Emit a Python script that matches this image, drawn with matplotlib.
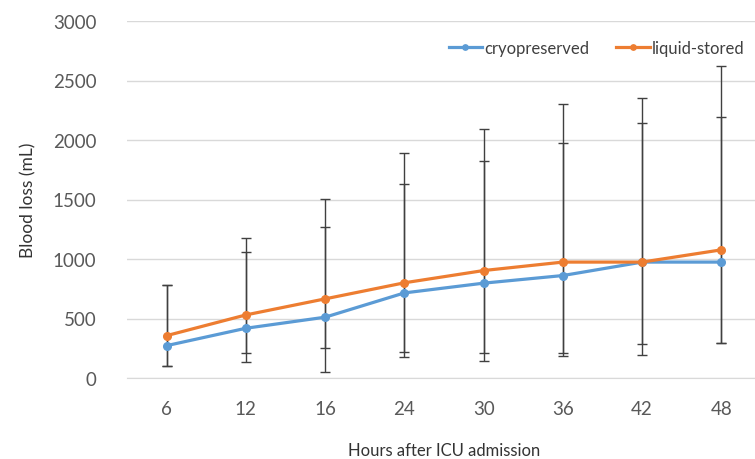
import numpy as np
import matplotlib
matplotlib.use('Agg')
import matplotlib.pyplot as plt

plt.rcParams['font.family'] = ['Lato', 'DejaVu Sans']

hours = ['6', '12', '16', '24', '30', '36', '42', '48']

cryo = [272, 418, 511, 715, 797, 861, 974, 974]
liquid = [356, 530, 665, 800, 903, 974, 974, 1077]

# error bar ends read from the caps
cryo_low = [104, 208, 250, 216, 210, 210, 286, 292]
cryo_high = [783, 1058, 1271, 1630, 1824, 1978, 2144, 2194]
liquid_low = [104, 137, 53, 174, 140, 183, 196, 292]
liquid_high = [783, 1178, 1507, 1894, 2090, 2306, 2357, 2624]

blue = '#5B9BD5'
orange = '#ED7D31'
grey = '#595959'

fig = plt.figure(figsize=(7.55, 4.6), dpi=100)
ax = fig.add_axes([127/755, 81/460, 634/755, 357/460])

x = np.arange(len(hours))
cryo = np.array(cryo)
liquid = np.array(liquid)

ax.errorbar(x, cryo, yerr=[cryo - np.array(cryo_low), np.array(cryo_high) - cryo],
            fmt='none', ecolor='#404040', elinewidth=1, capsize=3.5, capthick=1, zorder=2)
ax.errorbar(x, liquid, yerr=[liquid - np.array(liquid_low), np.array(liquid_high) - liquid],
            fmt='none', ecolor='#404040', elinewidth=1, capsize=3.5, capthick=1, zorder=2)

ax.plot(x, cryo, color=blue, lw=2.3, marker='o', ms=5.5, label='cryopreserved', zorder=3)
ax.plot(x, liquid, color=orange, lw=2.3, marker='o', ms=5.5, label='liquid-stored', zorder=4)

ax.set_xlim(-0.5, len(hours) - 0.5)
ax.set_ylim(0, 3000)
ax.set_yticks(range(0, 3001, 500))
ax.set_xticks(x)
ax.set_xticklabels(hours)
ax.yaxis.grid(True, color='#D9D9D9', lw=1)
ax.set_axisbelow(True)
for s in ['top', 'right', 'left']:
    ax.spines[s].set_visible(False)
ax.spines['bottom'].set_color('#D9D9D9')
ax.tick_params(length=0, labelsize=13.5, colors=grey, pad=16)
ax.tick_params(axis='y', pad=22)

ax.set_ylabel('Blood loss (mL)', fontsize=12.5, color='#333333', labelpad=12)
ax.set_xlabel('Hours after ICU admission', fontsize=12, color='#333333', labelpad=18)

ax.legend(loc='upper right', bbox_to_anchor=(0.998, 0.99), ncol=2, frameon=False,
          fontsize=12, labelcolor='#404040', handlelength=2.0, handletextpad=0.15,
          columnspacing=1.6, markerscale=0.7)

plt.savefig('out.png', dpi=100)
